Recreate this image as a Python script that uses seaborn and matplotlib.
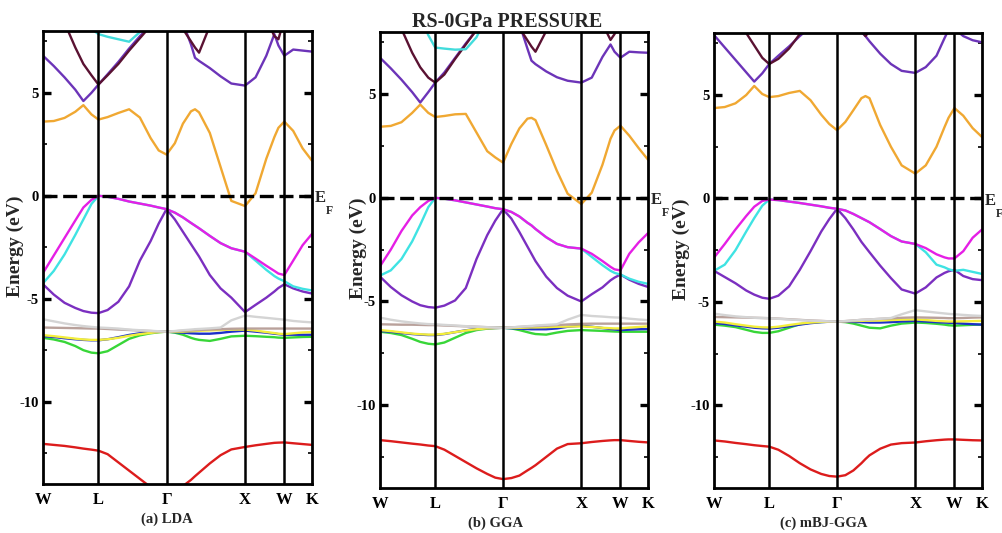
import matplotlib
matplotlib.use("Agg")
import matplotlib.pyplot as plt
import matplotlib.transforms as mtransforms
from matplotlib.ticker import MultipleLocator
import pandas as pd
import seaborn as sns

# ---------------------------------------------------------------------------
# k-path sampling, as a fraction of the total W-L-Γ-X-W-K path length
# ---------------------------------------------------------------------------
k_path = [0.00, 0.04, 0.08, 0.12, 0.15, 0.18, 0.206, 0.24, 0.28, 0.32, 0.36,
          0.40, 0.43, 0.459, 0.49, 0.52, 0.55, 0.565, 0.58, 0.62, 0.66, 0.70,
          0.751, 0.79, 0.83, 0.86, 0.875, 0.897, 0.93, 0.965, 1.00]
sym_pos = [0.0, 0.206, 0.459, 0.751, 0.897, 1.0]
sym_labels = ["W", "L", "Γ", "X", "W", "K"]

# ---------------------------------------------------------------------------
# Band energies (eV, relative to E_F) -- LDA
# ---------------------------------------------------------------------------
lda_red = [-12.05, -12.10, -12.15, -12.22, -12.28, -12.33, -12.38, -12.55, -12.95, -13.35, -13.75,
           -14.15, -14.35, -14.45, -14.35, -14.10, -13.80, -13.62, -13.45, -13.00, -12.60, -12.32,
           -12.20, -12.12, -12.05, -12.00, -11.99, -11.98, -12.02, -12.06, -12.10]
lda_green = [-6.90, -6.98, -7.10, -7.30, -7.50, -7.62, -7.65, -7.55, -7.25, -6.95, -6.78,
             -6.68, -6.63, -6.60, -6.65, -6.75, -6.90, -6.96, -7.00, -7.05, -6.95, -6.83,
             -6.80, -6.82, -6.85, -6.87, -6.89, -6.90, -6.88, -6.86, -6.85]
lda_blue = [-6.82, -6.86, -6.92, -6.97, -7.00, -7.02, -7.02, -6.97, -6.87, -6.76, -6.68,
            -6.63, -6.61, -6.60, -6.62, -6.65, -6.68, -6.69, -6.70, -6.70, -6.66, -6.60,
            -6.55, -6.60, -6.65, -6.70, -6.72, -6.75, -6.75, -6.75, -6.75]
lda_yellow = [-6.77, -6.82, -6.88, -6.94, -6.98, -7.00, -7.00, -6.97, -6.90, -6.80, -6.72,
              -6.66, -6.62, -6.60, -6.60, -6.60, -6.58, -6.57, -6.56, -6.54, -6.52, -6.50,
              -6.50, -6.55, -6.62, -6.67, -6.70, -6.72, -6.68, -6.64, -6.62]
lda_rosy = [-6.40, -6.41, -6.42, -6.43, -6.44, -6.45, -6.45, -6.47, -6.50, -6.52, -6.55,
            -6.57, -6.59, -6.60, -6.58, -6.56, -6.54, -6.53, -6.52, -6.50, -6.48, -6.46,
            -6.45, -6.45, -6.45, -6.45, -6.45, -6.45, -6.45, -6.45, -6.45]
lda_gray = [-6.00, -6.10, -6.20, -6.28, -6.33, -6.37, -6.40, -6.42, -6.45, -6.50, -6.53,
            -6.56, -6.58, -6.60, -6.57, -6.53, -6.50, -6.48, -6.47, -6.44, -6.40, -6.05,
            -5.82, -5.88, -5.93, -5.97, -5.99, -6.02, -6.08, -6.12, -6.15]
lda_purple = [-4.30, -4.80, -5.20, -5.45, -5.60, -5.68, -5.70, -5.55, -5.15, -4.40, -3.15,
              -2.20, -1.35, -0.65, -1.15, -1.75, -2.35, -2.65, -2.95, -3.85, -4.50, -4.95,
              -5.65, -5.30, -4.95, -4.65, -4.48, -4.30, -4.50, -4.65, -4.75]
lda_cyan = [-4.25, -3.65, -2.85, -1.90, -1.15, -0.40, 0.00, -0.05, -0.15, -0.28, -0.38,
            -0.48, -0.57, -0.65, -0.82, -1.05, -1.32, -1.45, -1.58, -1.95, -2.30, -2.55,
            -2.72, -3.15, -3.60, -3.90, -4.02, -4.15, -4.40, -4.52, -4.60]
lda_magenta = [-3.75, -2.90, -2.05, -1.20, -0.57, -0.20, 0.00, -0.05, -0.15, -0.28, -0.38,
               -0.48, -0.57, -0.65, -0.82, -1.05, -1.32, -1.45, -1.58, -1.95, -2.30, -2.55,
               -2.72, -3.05, -3.40, -3.65, -3.78, -3.85, -3.15, -2.40, -1.85]
lda_orange = [3.60, 3.63, 3.78, 4.08, 4.40, 3.95, 3.70, 3.82, 4.02, 4.20, 3.80,
              2.80, 2.20, 2.00, 2.55, 3.50, 4.10, 4.20, 4.05, 3.05, 1.40, -0.25,
              -0.50, 0.12, 1.80, 2.85, 3.30, 3.60, 3.15, 2.30, 1.70]
lda_purple_hi = [6.80, 6.30, 5.75, 5.15, 4.60, 5.00, 5.40, 5.90, 6.50, 7.15, 7.75,
                 8.30, 8.80, 9.20, 9.20, 8.40, 7.35, 6.70, 6.55, 6.20, 5.80, 5.45,
                 5.35, 5.75, 6.80, 7.85, 7.30, 6.80, 7.10, 7.05, 7.00]
lda_maroon_hi = [10.30, 9.40, 8.40, 7.20, 6.40, 5.85, 5.40, 5.85, 6.40, 7.05, 7.65,
                 8.25, 8.70, 9.00, 8.80, 8.10, 7.50, 7.20, 6.95, 8.25, 9.00, 9.50,
                 9.80, 9.40, 8.60, 7.75, 7.60, 8.60, 9.00, 9.30, 9.50]
lda_cyan_hi = [9.50, 9.20, 8.90, 8.60, 8.35, 8.10, 7.85, 7.72, 7.60, 7.48, 7.95,
               8.60, 9.00, 9.30, 9.50, 9.60, 9.70, 9.70, 9.70, 9.80, 9.80, 9.90,
               9.90, 9.90, 9.90, 9.90, 9.90, 9.90, 9.90, 9.90, 9.90]

# ---------------------------------------------------------------------------
# Band energies -- GGA
# ---------------------------------------------------------------------------
gga_red = [-11.69, -11.74, -11.80, -11.86, -11.90, -11.95, -11.98, -12.15, -12.45, -12.75, -13.05,
           -13.32, -13.50, -13.57, -13.52, -13.40, -13.15, -13.03, -12.90, -12.50, -12.10, -11.88,
           -11.84, -11.78, -11.73, -11.70, -11.69, -11.69, -11.73, -11.77, -11.80]
gga_green = [-6.46, -6.52, -6.62, -6.80, -6.95, -7.04, -7.07, -6.98, -6.75, -6.52, -6.38,
             -6.31, -6.28, -6.27, -6.30, -6.38, -6.48, -6.53, -6.57, -6.60, -6.50, -6.42,
             -6.38, -6.40, -6.42, -6.44, -6.45, -6.46, -6.46, -6.46, -6.46]
gga_blue = [-6.42, -6.46, -6.52, -6.57, -6.60, -6.62, -6.62, -6.57, -6.48, -6.39, -6.33,
            -6.29, -6.28, -6.27, -6.29, -6.31, -6.33, -6.34, -6.34, -6.34, -6.30, -6.22,
            -6.17, -6.22, -6.28, -6.33, -6.35, -6.38, -6.36, -6.34, -6.33]
gga_yellow = [-6.38, -6.43, -6.49, -6.55, -6.58, -6.60, -6.60, -6.56, -6.48, -6.40, -6.34,
              -6.30, -6.28, -6.27, -6.27, -6.27, -6.26, -6.25, -6.25, -6.24, -6.22, -6.21,
              -6.20, -6.23, -6.27, -6.29, -6.30, -6.30, -6.26, -6.23, -6.20]
gga_rosy = [-6.10, -6.11, -6.12, -6.12, -6.13, -6.14, -6.14, -6.16, -6.18, -6.20, -6.22,
            -6.24, -6.26, -6.27, -6.25, -6.23, -6.21, -6.20, -6.19, -6.17, -6.14, -6.11,
            -6.08, -6.07, -6.07, -6.07, -6.07, -6.07, -6.07, -6.07, -6.07]
gga_gray = [-5.78, -5.88, -5.96, -6.02, -6.06, -6.09, -6.10, -6.13, -6.16, -6.19, -6.22,
            -6.24, -6.26, -6.27, -6.25, -6.22, -6.19, -6.18, -6.16, -6.13, -6.10, -5.88,
            -5.65, -5.70, -5.73, -5.76, -5.77, -5.78, -5.83, -5.87, -5.90]
gga_purple = [-3.80, -4.30, -4.70, -5.00, -5.18, -5.27, -5.30, -5.20, -4.95, -4.35, -2.95,
              -1.80, -1.10, -0.55, -1.00, -1.65, -2.35, -2.70, -3.05, -3.80, -4.35, -4.72,
              -5.00, -4.65, -4.32, -3.98, -3.85, -3.70, -3.95, -4.15, -4.30]
gga_cyan = [-3.75, -3.50, -2.95, -2.10, -1.30, -0.45, 0.00, -0.04, -0.12, -0.22, -0.32,
            -0.42, -0.50, -0.55, -0.68, -0.90, -1.20, -1.33, -1.50, -1.90, -2.22, -2.38,
            -2.45, -2.85, -3.25, -3.52, -3.62, -3.70, -3.90, -4.05, -4.15]
gga_magenta = [-3.30, -2.50, -1.60, -0.85, -0.45, -0.15, 0.00, -0.04, -0.12, -0.22, -0.32,
               -0.42, -0.50, -0.55, -0.68, -0.90, -1.20, -1.33, -1.50, -1.90, -2.22, -2.38,
               -2.45, -2.70, -3.05, -3.33, -3.45, -3.50, -2.70, -2.15, -1.70]
gga_orange = [3.43, 3.47, 3.65, 4.10, 4.50, 4.10, 3.90, 3.95, 4.03, 4.05, 3.15,
              2.25, 1.95, 1.70, 2.60, 3.35, 3.82, 3.86, 3.75, 2.55, 1.30, 0.20,
              -0.30, 0.25, 1.60, 2.85, 3.25, 3.48, 3.00, 2.40, 1.84]
gga_purple_hi = [6.76, 6.25, 5.70, 5.10, 4.60, 5.10, 5.56, 6.05, 6.75, 7.45, 8.10,
                 8.70, 9.10, 9.30, 9.20, 8.40, 7.20, 6.62, 6.45, 6.10, 5.82, 5.65,
                 5.56, 5.80, 6.80, 7.40, 7.05, 6.76, 7.05, 7.02, 7.00]
gga_maroon_hi = [10.50, 9.30, 8.15, 7.00, 6.30, 5.80, 5.56, 5.95, 6.70, 7.40, 8.10,
                 8.70, 9.10, 9.30, 8.90, 8.20, 7.60, 7.30, 7.05, 8.05, 8.80, 9.30,
                 9.50, 9.20, 8.40, 7.62, 7.90, 8.50, 9.20, 9.50, 9.60]
gga_cyan_hi = [10.00, 9.80, 9.50, 9.20, 8.80, 7.85, 7.25, 7.20, 7.15, 7.17, 7.75,
               8.80, 9.30, 9.50, 9.60, 9.60, 9.70, 9.70, 9.70, 9.80, 9.80, 9.90,
               9.90, 9.90, 9.90, 9.90, 9.90, 9.90, 9.90, 9.90, 9.90]

# ---------------------------------------------------------------------------
# Band energies -- mBJ-GGA
# ---------------------------------------------------------------------------
mbj_red = [-11.70, -11.75, -11.82, -11.88, -11.93, -11.97, -12.00, -12.15, -12.45, -12.80, -13.10,
           -13.32, -13.42, -13.45, -13.38, -13.15, -12.80, -12.60, -12.42, -12.10, -11.90, -11.83,
           -11.80, -11.74, -11.69, -11.66, -11.65, -11.65, -11.67, -11.69, -11.70]
mbj_green = [-6.10, -6.15, -6.22, -6.35, -6.45, -6.50, -6.50, -6.42, -6.25, -6.08, -6.00,
             -5.97, -5.96, -5.95, -5.98, -6.05, -6.15, -6.20, -6.25, -6.28, -6.15, -6.05,
             -6.00, -6.02, -6.06, -6.10, -6.13, -6.15, -6.13, -6.11, -6.10]
mbj_blue = [-6.02, -6.07, -6.14, -6.20, -6.25, -6.28, -6.29, -6.25, -6.18, -6.10, -6.03,
            -5.98, -5.96, -5.95, -5.96, -5.97, -5.98, -5.99, -6.00, -6.00, -5.98, -5.95,
            -5.92, -5.95, -5.98, -6.00, -6.01, -6.02, -6.05, -6.08, -6.10]
mbj_yellow = [-5.95, -6.00, -6.08, -6.15, -6.20, -6.23, -6.24, -6.20, -6.12, -6.05, -6.00,
              -5.97, -5.96, -5.95, -5.94, -5.93, -5.92, -5.91, -5.91, -5.90, -5.88, -5.86,
              -5.85, -5.88, -5.92, -5.94, -5.95, -5.95, -5.94, -5.93, -5.92]
mbj_rosy = [-5.73, -5.74, -5.75, -5.76, -5.77, -5.78, -5.79, -5.81, -5.84, -5.87, -5.90,
            -5.92, -5.94, -5.95, -5.93, -5.90, -5.87, -5.86, -5.85, -5.82, -5.80, -5.77,
            -5.75, -5.76, -5.77, -5.78, -5.79, -5.79, -5.78, -5.76, -5.75]
mbj_gray = [-5.57, -5.64, -5.70, -5.74, -5.77, -5.78, -5.79, -5.82, -5.85, -5.88, -5.91,
            -5.93, -5.94, -5.95, -5.93, -5.90, -5.87, -5.86, -5.85, -5.82, -5.78, -5.60,
            -5.40, -5.46, -5.52, -5.56, -5.58, -5.60, -5.63, -5.66, -5.68]
mbj_purple = [-3.50, -3.80, -4.10, -4.45, -4.65, -4.80, -4.85, -4.70, -4.25, -3.45, -2.55,
              -1.60, -1.00, -0.50, -0.95, -1.50, -2.10, -2.35, -2.60, -3.25, -3.85, -4.40,
              -4.60, -4.30, -3.82, -3.60, -3.52, -3.45, -3.75, -3.90, -3.95]
mbj_cyan = [-3.50, -3.20, -2.50, -1.60, -0.95, -0.35, -0.05, -0.08, -0.15, -0.22, -0.30,
            -0.38, -0.45, -0.50, -0.58, -0.75, -0.95, -1.05, -1.15, -1.48, -1.82, -2.08,
            -2.20, -2.60, -3.20, -3.33, -3.42, -3.50, -3.45, -3.55, -3.65]
mbj_magenta = [-2.86, -2.20, -1.50, -0.85, -0.40, -0.12, -0.05, -0.08, -0.15, -0.22, -0.30,
               -0.38, -0.45, -0.50, -0.58, -0.75, -0.95, -1.05, -1.15, -1.48, -1.82, -2.08,
               -2.20, -2.40, -2.70, -2.85, -2.90, -2.90, -2.55, -1.90, -1.50]
mbj_orange = [4.37, 4.42, 4.60, 5.00, 5.44, 5.05, 4.90, 4.95, 5.10, 5.20, 4.75,
              4.05, 3.60, 3.30, 3.70, 4.27, 4.85, 4.95, 4.85, 3.55, 2.50, 1.60,
              1.20, 1.60, 2.50, 3.45, 3.90, 4.37, 4.00, 3.40, 2.97]
mbj_purple_hi = [7.90, 7.30, 6.70, 6.10, 5.65, 6.05, 6.50, 6.90, 7.35, 7.85, 8.30,
                 8.80, 9.20, 9.40, 9.20, 8.70, 8.05, 7.85, 7.60, 7.00, 6.50, 6.17,
                 6.07, 6.35, 6.90, 7.75, 8.15, 8.20, 7.85, 7.65, 7.55]
mbj_maroon_hi = [10.50, 9.60, 8.70, 8.00, 7.40, 6.80, 6.50, 6.75, 7.25, 7.95, 8.60,
                 9.10, 9.40, 9.50, 9.30, 8.80, 8.10, 7.85, 8.10, 8.80, 9.30, 9.60,
                 9.70, 9.60, 9.40, 9.20, 9.10, 9.00, 9.10, 9.20, 9.30]

band_colors = {
    "red": "#dc1c1c", "green": "#38d638", "blue": "#1c30c8", "yellow": "#f3ee3c",
    "rosy": "#b9a19b", "gray": "#d4d4d4", "purple": "#7b2fc0", "cyan": "#3fe3e3",
    "magenta": "#e51fe5", "orange": "#f0a832", "purple_hi": "#6c34b8",
    "maroon_hi": "#5a1232", "cyan_hi": "#42dcdc",
}
band_order = ["red", "green", "blue", "yellow", "rosy", "gray", "purple", "cyan",
              "magenta", "orange", "purple_hi", "maroon_hi", "cyan_hi"]

panels = [
    ("(a) LDA", {
        "red": lda_red, "green": lda_green, "blue": lda_blue, "yellow": lda_yellow,
        "rosy": lda_rosy, "gray": lda_gray, "purple": lda_purple, "cyan": lda_cyan,
        "magenta": lda_magenta, "orange": lda_orange, "purple_hi": lda_purple_hi,
        "maroon_hi": lda_maroon_hi, "cyan_hi": lda_cyan_hi}),
    ("(b) GGA", {
        "red": gga_red, "green": gga_green, "blue": gga_blue, "yellow": gga_yellow,
        "rosy": gga_rosy, "gray": gga_gray, "purple": gga_purple, "cyan": gga_cyan,
        "magenta": gga_magenta, "orange": gga_orange, "purple_hi": gga_purple_hi,
        "maroon_hi": gga_maroon_hi, "cyan_hi": gga_cyan_hi}),
    ("(c) mBJ-GGA", {
        "red": mbj_red, "green": mbj_green, "blue": mbj_blue, "yellow": mbj_yellow,
        "rosy": mbj_rosy, "gray": mbj_gray, "purple": mbj_purple, "cyan": mbj_cyan,
        "magenta": mbj_magenta, "orange": mbj_orange, "purple_hi": mbj_purple_hi,
        "maroon_hi": mbj_maroon_hi}),
]

# ---------------------------------------------------------------------------
# Styling
# ---------------------------------------------------------------------------
sns.set_theme(style="ticks")
plt.rcParams.update({
    "font.family": ["Liberation Serif", "DejaVu Serif"],
    "font.weight": "bold",
    "axes.labelweight": "bold",
    "axes.unicode_minus": False,
    "axes.edgecolor": "black",
    "axes.linewidth": 2.0,
    "xtick.color": "black",
    "ytick.color": "black",
})

fig = plt.figure(figsize=(10.03, 5.33), dpi=100)
rects = [[0.0429, 0.0919, 0.2682, 0.8499],
         [0.3789, 0.0844, 0.2672, 0.8555],
         [0.7119, 0.0844, 0.2672, 0.8537]]
ylabel_x = [-0.071, -0.047, -0.090]
subtitle_x = [0.459, 0.43, 0.41]

for i, (name, bands) in enumerate(panels):
    ax = fig.add_axes(rects[i])
    rows = []
    for b in band_order:
        if b in bands:
            for k, e in zip(k_path, bands[b]):
                rows.append((k, e, b))
    df = pd.DataFrame(rows, columns=["k", "E", "band"])
    order = [b for b in band_order if b in bands]
    sns.lineplot(data=df, x="k", y="E", hue="band", hue_order=order,
                 palette=band_colors, units="band", estimator=None, sort=False,
                 linewidth=1.7, legend=False, ax=ax, zorder=2)

    for p in sym_pos[1:-1]:
        ax.axvline(p, color="black", lw=1.8, zorder=3)
    ax.axhline(0, color="black", lw=2.4, ls=(0, (4.2, 1.7)), zorder=4)

    ax.set_xlim(0, 1)
    ax.set_ylim(-14, 8)
    ax.set_xticks(sym_pos)
    ax.set_xticklabels(sym_labels)
    ax.tick_params(axis="x", length=0, labelsize=12, pad=5.5)
    ax.yaxis.set_major_locator(MultipleLocator(5))
    ax.yaxis.set_minor_locator(MultipleLocator(2.5))
    ax.tick_params(axis="y", which="major", direction="in", length=6, width=2.4,
                   left=True, right=True, labelsize=10.5, pad=3)
    ax.tick_params(axis="y", which="minor", direction="in", length=3, width=1.2,
                   left=True, right=True)
    for s in ax.spines.values():
        s.set_visible(True)
        s.set_color("black")
        s.set_linewidth(2.0)

    ax.set_xlabel("")
    ax.set_ylabel("Energy (eV)", fontsize=14, fontweight="bold")
    ax.yaxis.set_label_coords(ylabel_x[i], 0.525)

    ax.text(subtitle_x[i], -0.077, name, transform=ax.transAxes, ha="center",
            va="center", fontsize=10.5, fontweight="bold")

    tr = mtransforms.blended_transform_factory(ax.transAxes, ax.transData)
    ax.text(1.01, -0.1, "E", transform=tr, ha="left", va="center",
            fontsize=12, fontweight="bold", clip_on=False)
    ax.text(1.052, -0.75, "F", transform=tr, ha="left", va="center",
            fontsize=8.5, fontweight="bold", clip_on=False)

fig.text(507 / 1003, 1 - 22 / 533, "RS-0GPa PRESSURE", ha="center", va="center",
         fontsize=14.5, fontweight="bold")

fig.savefig("out.png", dpi=100)
